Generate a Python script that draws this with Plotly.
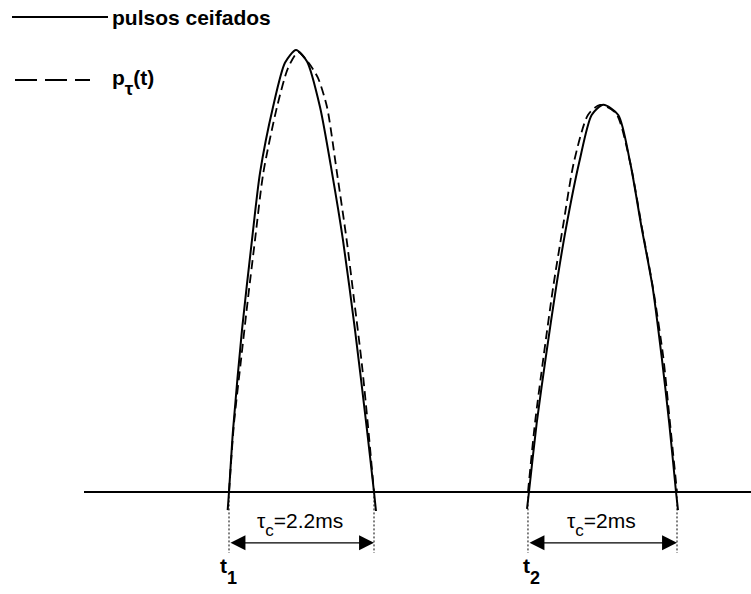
import plotly.graph_objects as go

# ---- data (time in ms, amplitude normalised to pulse-1 peak) ----
pulse1_t = [-0.020, 0.0, 0.061, 0.197, 0.348, 0.470, 0.667, 0.848, 1.015, 1.182, 1.379, 1.561, 1.727, 1.909, 2.091, 2.197, 2.227]
pulse1_y = [-0.041, 0.0, 0.140, 0.367, 0.570, 0.722, 0.871, 0.971, 1.0, 0.974, 0.871, 0.722, 0.570, 0.367, 0.140, 0.0, -0.043]

ptau1_t = [0.0, 0.076, 0.177, 0.290, 0.394, 0.520, 0.727, 0.894, 1.045, 1.197, 1.348, 1.485, 1.636, 1.783, 1.890, 2.011, 2.102, 2.197]
ptau1_y = [0.0, 0.156, 0.292, 0.441, 0.570, 0.722, 0.871, 0.959, 0.995, 0.973, 0.937, 0.871, 0.722, 0.570, 0.441, 0.292, 0.156, 0.0]

pulse2_t = [4.515, 4.545, 4.662, 4.800, 4.955, 5.106, 5.308, 5.495, 5.671, 5.898, 6.076, 6.253, 6.420, 6.556, 6.670, 6.773, 6.803]
pulse2_y = [-0.038, 0.0, 0.156, 0.305, 0.462, 0.597, 0.747, 0.853, 0.876, 0.853, 0.747, 0.597, 0.462, 0.305, 0.156, 0.0, -0.041]

ptau2_t = [4.530, 4.636, 4.765, 4.910, 5.056, 5.227, 5.439, 5.621, 5.864, 6.076, 6.258, 6.424, 6.580, 6.682, 6.788]
ptau2_y = [0.0, 0.156, 0.305, 0.462, 0.597, 0.747, 0.853, 0.876, 0.857, 0.747, 0.597, 0.462, 0.305, 0.156, 0.0]

baseline_t = [-2.197, 7.909]
baseline_y = [0.0, 0.0]

# pulse boundaries (start, end) and labels
pulse_edges = [(0.0, 2.197), (4.530, 6.788)]
start_label_t = [-0.015, 4.59]
SUB = '<sub><span style="font-size:{s}px;baseline-shift:-{d}px">{c}</span></sub>'
width_labels = ['τ' + SUB.format(s=17, d=4, c='c') + '=2.2ms',
                'τ' + SUB.format(s=17, d=4, c='c') + '=2ms']
start_labels = ['<b>t' + SUB.format(s=18, d=7, c='1') + '</b>',
                '<b>t' + SUB.format(s=18, d=7, c='2') + '</b>']
legend_labels = ["<b>pulsos ceifados</b>",
                 '<b>p' + SUB.format(s=19, d=6, c='τ') + '(t)</b>']

FONT = "Arial, Liberation Sans, sans-serif"

fig = go.Figure()

fig.add_trace(go.Scatter(x=baseline_t, y=baseline_y, mode="lines",
                         line=dict(color="black", width=2), hoverinfo="skip"))

for t, y in [(pulse1_t, pulse1_y), (pulse2_t, pulse2_y)]:
    fig.add_trace(go.Scatter(x=t, y=y, mode="lines",
                             line=dict(color="black", width=2, shape="spline", smoothing=0.7),
                             hoverinfo="skip"))

for t, y in [(ptau1_t, ptau1_y), (ptau2_t, ptau2_y)]:
    fig.add_trace(go.Scatter(x=t, y=y, mode="lines",
                             line=dict(color="black", width=1.8, dash="9px,5px",
                                       shape="spline", smoothing=0.7),
                             hoverinfo="skip"))

# dotted vertical markers
for (a, b) in pulse_edges:
    for e in (a, b):
        fig.add_trace(go.Scatter(x=[e, e], y=[-0.01, -0.138], mode="lines",
                                 line=dict(color="black", width=1, dash="2px,2px"),
                                 hoverinfo="skip"))

annotations = []
for (a, b), wl, sl, sx in zip(pulse_edges, width_labels, start_labels, start_label_t):
    annotations.append(dict(x=b, y=-0.115, ax=a, ay=-0.115, xref="x", yref="y",
                            axref="x", ayref="y", text="", showarrow=True,
                            arrowhead=2, startarrowhead=2, arrowside="end+start",
                            arrowsize=2.3, startarrowsize=2.3, arrowwidth=1.3,
                            arrowcolor="black", standoff=0, startstandoff=0))
    annotations.append(dict(x=(a + b) / 2 - 0.02, y=-0.073, xref="x", yref="y",
                            text=wl, showarrow=False,
                            font=dict(family=FONT, size=21, color="black"),
                            xanchor="center", yanchor="middle"))
    annotations.append(dict(x=sx, y=-0.178, xref="x", yref="y",
                            text=sl, showarrow=False,
                            font=dict(family=FONT, size=21, color="black"),
                            xanchor="center", yanchor="middle"))

# legend (drawn manually)
W, H = 751, 594
shapes = [
    dict(type="line", xref="paper", yref="paper", x0=12 / W, x1=108 / W,
         y0=1 - 17 / H, y1=1 - 17 / H, line=dict(color="black", width=2)),
    dict(type="line", xref="paper", yref="paper", x0=15 / W, x1=90 / W,
         y0=1 - 80 / H, y1=1 - 80 / H, line=dict(color="black", width=2, dash="22px,8px")),
]
annotations.append(dict(x=110 / W, y=1 - 17 / H, xref="paper", yref="paper",
                        text=legend_labels[0], showarrow=False, xanchor="left", yanchor="middle",
                        font=dict(family=FONT, size=21, color="black")))
annotations.append(dict(x=110 / W, y=1 - 82 / H, xref="paper", yref="paper",
                        text=legend_labels[1], showarrow=False, xanchor="left", yanchor="middle",
                        font=dict(family=FONT, size=21, color="black")))

fig.update_layout(
    width=W, height=H, autosize=False,
    margin=dict(l=0, r=0, t=0, b=0, pad=0),
    paper_bgcolor="white", plot_bgcolor="white",
    showlegend=False,
    xaxis=dict(range=[-229 / 66, (751 - 229) / 66], visible=False, fixedrange=True),
    yaxis=dict(range=[-(594 - 492) / 442, 492 / 442], visible=False, fixedrange=True),
    annotations=annotations, shapes=shapes,
)

fig.write_html("out.html")
